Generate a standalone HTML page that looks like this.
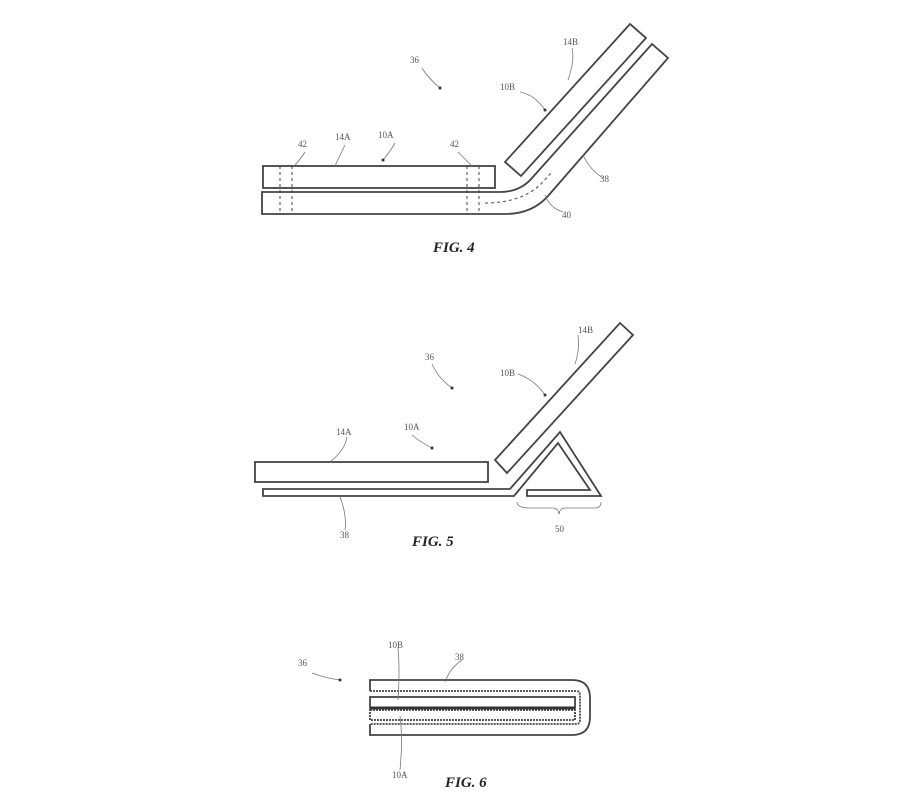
<!DOCTYPE html>
<html><head><style>
body{margin:0;background:#fff;}
svg{display:block}
text{font-family:"Liberation Serif",serif;font-size:9px;fill:#555}
.fig{font-size:15px;font-weight:bold;font-style:italic;fill:#222}
</style></head><body>
<svg width="924" height="802" viewBox="0 0 924 802" xmlns="http://www.w3.org/2000/svg">
<g fill="none" stroke="#444" stroke-width="1.8">
<!-- FIG 4 -->
<rect x="263" y="166" width="232" height="22"/>
<path d="M262,192 H500 Q520,192 532,178 L652,44 L668,58 L548,196 Q532,214 505,214 H262 Z"/>
<path d="M505,162 L630,24 L646,38 L521,176 Z"/>
<g stroke-dasharray="3,3" stroke-width="1">
<line x1="280" y1="166" x2="280" y2="214"/><line x1="292" y1="166" x2="292" y2="214"/>
<line x1="467" y1="166" x2="467" y2="214"/><line x1="479" y1="166" x2="479" y2="214"/>
<path d="M485,203 Q520,203 540,185 L552,172"/>
</g>
<g stroke-width="0.8" stroke="#777">
<path d="M422,68 Q428,78 440,88"/><path d="M520,92 Q535,95 545,110"/>
<path d="M572,48 Q575,60 568,80"/><path d="M345,145 Q340,155 335,166"/>
<path d="M395,143 Q390,152 383,160"/><path d="M305,152 Q300,160 294,166"/>
<path d="M458,152 Q466,160 472,166"/><path d="M603,178 Q590,170 583,155"/>
<path d="M563,212 Q550,208 545,195"/>
</g>
<!-- FIG 5 -->
<rect x="255" y="462" width="233" height="20"/>
<path d="M495,460 L620,323 L633,335 L507,473 Z"/>
<path d="M263,489 H510 L560,432 L601,496 H527 V490 H590 L558,443 L514,496 H263 Z"/>
<g stroke-width="0.8" stroke="#777">
<path d="M432,364 Q438,378 452,388"/><path d="M518,374 Q535,380 545,395"/>
<path d="M578,335 Q580,350 575,364"/><path d="M347,437 Q345,450 330,462"/>
<path d="M412,435 Q420,442 432,448"/><path d="M345,530 Q347,515 340,497"/>
<path d="M517,502 Q517,508 530,508 H553 Q558,508 559,514 Q560,508 565,508 H595 Q601,508 601,502"/>
</g>
<!-- FIG 6 -->
<path d="M370,691 V680 H572 Q590,680 590,698 V717 Q590,735 572,735 H370 V724"/>
<path d="M370,691 H576 Q580,691 580,695 V720 Q580,724 576,724 H370" stroke-dasharray="2,1"/>
<rect x="370" y="697" width="205" height="11"/>
<line x1="370" y1="708" x2="575" y2="708" stroke-width="3" stroke="#333"/>
<rect x="370" y="710" width="205" height="10" stroke-dasharray="2,1"/>
<g stroke-width="0.8" stroke="#777">
<path d="M312,673 Q325,678 340,680"/><path d="M398,648 Q400,670 398,700"/>
<path d="M462,660 Q450,668 445,682"/><path d="M400,770 Q403,740 400,716"/>
</g>
</g>
<g fill="#333"><circle cx="440" cy="88" r="1.5"/><circle cx="545" cy="110" r="1.5"/><circle cx="383" cy="160" r="1.5"/><circle cx="452" cy="388" r="1.5"/><circle cx="545" cy="395" r="1.5"/><circle cx="432" cy="448" r="1.5"/><circle cx="340" cy="680" r="1.5"/></g>
<text x="410" y="63">36</text><text x="563" y="45">14B</text><text x="500" y="90">10B</text>
<text x="335" y="140">14A</text><text x="378" y="138">10A</text><text x="298" y="147">42</text><text x="450" y="147">42</text>
<text x="600" y="182">38</text><text x="562" y="218">40</text>
<text x="433" y="252" class="fig">FIG. 4</text>
<text x="425" y="360">36</text><text x="578" y="333">14B</text><text x="500" y="376">10B</text>
<text x="336" y="435">14A</text><text x="404" y="430">10A</text><text x="340" y="538">38</text><text x="555" y="532">50</text>
<text x="412" y="546" class="fig">FIG. 5</text>
<text x="298" y="666">36</text><text x="388" y="648">10B</text><text x="455" y="660">38</text><text x="392" y="778">10A</text>
<text x="445" y="787" class="fig">FIG. 6</text>
</svg>
</body></html>
